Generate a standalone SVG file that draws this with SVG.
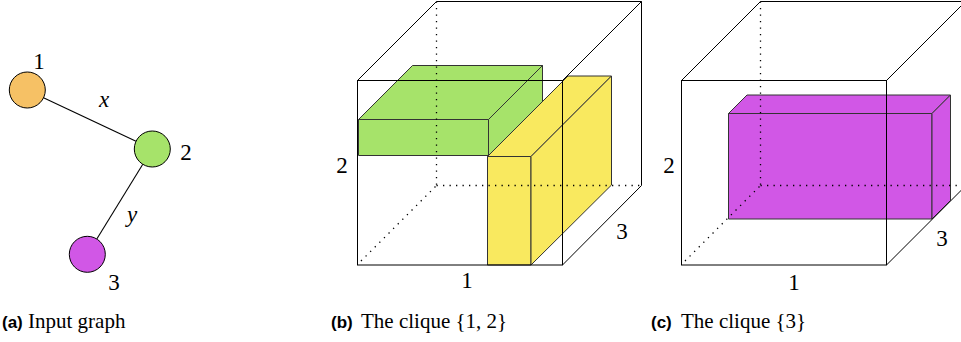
<svg xmlns="http://www.w3.org/2000/svg" width="961" height="342" viewBox="0 0 961 342">
<style>
.edge{stroke:#000;stroke-width:1.1;fill:none}
.node{stroke:#000;stroke-width:1}
.lbl{font-family:"Liberation Serif","DejaVu Serif",serif;font-size:23px;fill:#000;text-anchor:middle;dominant-baseline:central}
.math{font-family:"Liberation Serif","DejaVu Serif",serif;font-style:italic;font-size:23px;fill:#000;text-anchor:middle;dominant-baseline:central}
.cube{stroke:#000;stroke-width:1;fill:none}
.dot{stroke:#000;stroke-width:1.3;fill:none;stroke-dasharray:1.3 5.2}
.box{stroke:#333;stroke-width:1;stroke-linejoin:round}
.cap{font-family:"Liberation Serif","DejaVu Serif",serif;font-size:21px;fill:#000}
.capb{font-family:"Liberation Sans","DejaVu Sans",sans-serif;font-weight:bold;font-size:17px;fill:#000}
</style>

<!-- Panel (a) -->
<g id="connectors">
<line class="edge" x1="43.5" y1="97.7" x2="136" y2="141.3"/>
<line class="edge" x1="142.8" y1="164.3" x2="96.8" y2="239"/>
</g>
<g id="node1">
<circle class="node" cx="27.3" cy="90" r="18" fill="#f6c165"/>
<text class="lbl" x="39" y="61">1</text>
</g>
<g id="node2">
<circle class="node" cx="152.3" cy="149" r="18" fill="#a6e36a"/>
<text class="lbl" x="186" y="152">2</text>
</g>
<g id="node3">
<circle class="node" cx="87.3" cy="254.3" r="18" fill="#d157e6"/>
<text class="lbl" x="114" y="282">3</text>
</g>
<g id="edgelabels">
<text class="math" x="104" y="99">x</text>
<text class="math" x="132" y="214">y</text>
</g>

<!-- Panel (b) -->
<g id="panel-b">
<g id="green-box">
<rect class="box" x="358.5" y="119.5" width="130" height="36" fill="#a6e36a"/>
<polygon class="box" points="358.5,119.5 412.5,65.5 542.5,65.5 488.5,119.5" fill="#a6e36a"/>
<polygon class="box" points="488.5,119.5 542.5,65.5 542.5,101.5 488.5,155.5" fill="#a6e36a"/>
</g>
<g id="yellow-box">
<rect class="box" x="487.5" y="156.5" width="43.5" height="108.5" fill="#f9e95f"/>
<polygon class="box" points="487.5,156.5 568,76 611.5,76 531,156.5" fill="#f9e95f"/>
<polygon class="box" points="531,156.5 611.5,76 611.5,185 531,265" fill="#f9e95f"/>
</g>
<g id="cube-b">
<line class="dot" x1="436.5" y1="1.5" x2="436.5" y2="185.5"/>
<line class="dot" x1="436.5" y1="185.5" x2="641.5" y2="185.5"/>
<line class="dot" x1="361" y1="261" x2="436.5" y2="185.5"/>
<rect class="cube" x="357.5" y="80.5" width="205" height="184.5"/>
<polyline class="cube" points="357.5,80.5 436.5,1.5 641.5,1.5 562.5,80.5"/>
<polyline class="cube" points="641.5,1.5 641.5,185.5 562.5,265"/>
</g>
<text class="lbl" x="342" y="165">2</text>
<text class="lbl" x="622" y="231">3</text>
<text class="lbl" x="467" y="280">1</text>
</g>

<!-- Panel (c) -->
<g id="panel-c">
<g id="purple-box">
<rect class="box" x="728.5" y="113.5" width="203.5" height="105.5" fill="#d157e6"/>
<polygon class="box" points="728.5,113.5 747,95 950.5,95 932,113.5" fill="#d157e6"/>
<polygon class="box" points="932,113.5 950.5,95 950.5,200.5 932,219" fill="#d157e6"/>
</g>
<g id="cube-c">
<line class="dot" x1="760.5" y1="1.5" x2="760.5" y2="185.5"/>
<line class="dot" x1="760.5" y1="185.5" x2="961" y2="185.5"/>
<line class="dot" x1="685" y1="261" x2="760.5" y2="185.5"/>
<rect class="cube" x="681.5" y="80.5" width="205" height="184.5"/>
<polyline class="cube" points="681.5,80.5 760.5,1.5 965.5,1.5"/>
<line class="cube" x1="886.5" y1="80.5" x2="965.5" y2="1.5"/>
<line class="cube" x1="886.5" y1="265" x2="965.5" y2="186"/>
</g>
<text class="lbl" x="669" y="165">2</text>
<text class="lbl" x="942" y="238">3</text>
<text class="lbl" x="794" y="282">1</text>
</g>

<!-- Captions -->
<g id="captions">
<text class="capb" x="2" y="328">(a)</text>
<text class="cap" x="28" y="328">Input graph</text>
<text class="capb" x="331" y="328">(b)</text>
<text class="cap" x="361" y="328">The clique {1, 2}</text>
<text class="capb" x="651" y="328">(c)</text>
<text class="cap" x="681" y="328">The clique {3}</text>
</g>
</svg>
